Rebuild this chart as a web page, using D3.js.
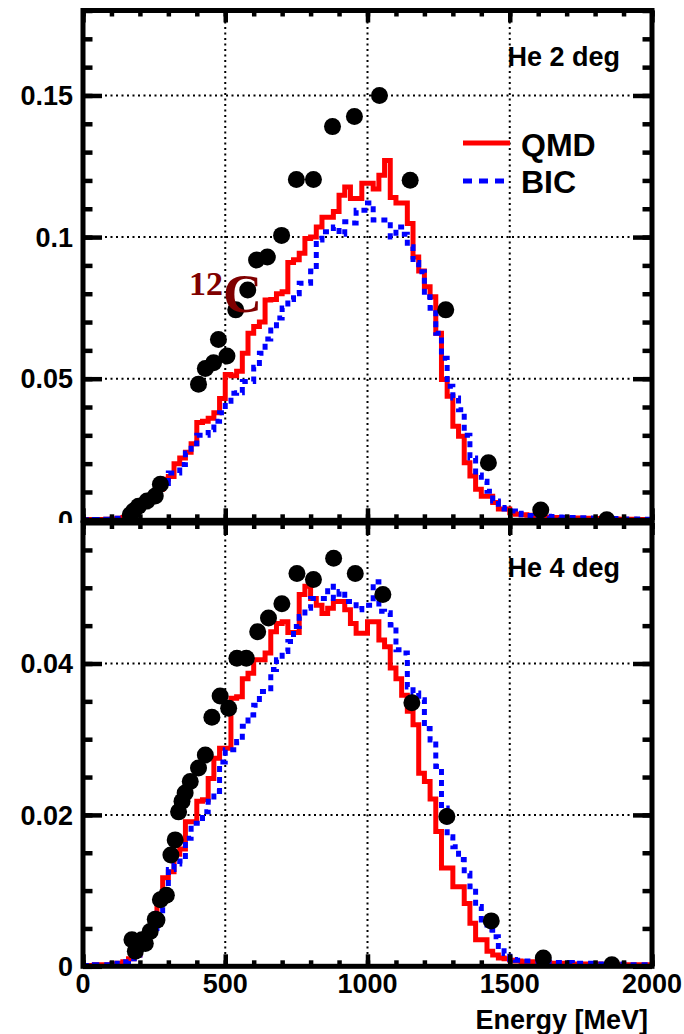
<!DOCTYPE html>
<html>
<head>
<meta charset="utf-8">
<script src="https://cdn.jsdelivr.net/npm/d3@7"></script>
<style>
body { margin: 0; background: #fff; }
svg text { font-family: "Liberation Sans", Arial, sans-serif; font-weight: bold; }
</style>
</head>
<body>
<div id="chart"></div>
<script>
// bins: 20 MeV wide, 0 - 2000 MeV
const binEdges = d3.range(0, 2000, 20)

// He 2 deg
const topQMD = [0.0003,0.0003,0.0003,0.0003,0.0004,0.0005,0.0007,0.001,0.002,0.0035,
  0.005,0.007,0.009,0.011,0.0145,0.0155,0.020,0.022,0.024,0.027,
  0.0345,0.035,0.036,0.038,0.043,0.0515,0.051,0.0526,0.059,0.066,
  0.0684,0.070,0.0778,0.078,0.080,0.0807,0.091,0.092,0.0943,0.0995,
  0.100,0.1036,0.107,0.107,0.109,0.1148,0.1177,0.1136,0.1136,0.119,
  0.119,0.117,0.1218,0.127,0.114,0.112,0.112,0.1048,0.093,0.088,
  0.0825,0.0789,0.066,0.0497,0.0438,0.0332,0.0297,0.0203,0.0156,0.011,
  0.0085,0.0085,0.0063,0.004,0.004,0.0027,0.0021,0.002,0.0018,0.0015,
  0.0012,0.0011,0.001,0.001,0.0009,0.0008,0.0008,0.0007,0.0007,0.0006,
  0.0006,0.0005,0.0005,0.0005,0.0004,0.0004,0.0004,0.0003,0.0003,0.0003]
const topBIC = [0.0002,0.0002,0.0003,0.0003,0.0004,0.0005,0.0007,0.001,0.002,0.003,
  0.004,0.006,0.008,0.010,0.013,0.0167,0.0167,0.0197,0.0238,0.027,
  0.030,0.030,0.032,0.035,0.038,0.042,0.0449,0.045,0.049,0.049,
  0.054,0.059,0.064,0.0672,0.0714,0.075,0.078,0.080,0.0837,0.0837,
  0.088,0.099,0.1019,0.1019,0.1036,0.101,0.1054,0.105,0.1095,0.1095,
  0.112,0.106,0.106,0.106,0.100,0.1036,0.101,0.0966,0.091,0.0878,
  0.0789,0.0749,0.066,0.0572,0.0473,0.0432,0.039,0.030,0.022,0.016,
  0.0138,0.0103,0.0068,0.0045,0.004,0.0033,0.0025,0.002,0.0017,0.0016,
  0.0015,0.0014,0.0013,0.0012,0.0011,0.001,0.001,0.0009,0.0009,0.0008,
  0.0008,0.0007,0.0007,0.0006,0.0006,0.0005,0.0005,0.0005,0.0004,0.0004]
const topDataE = [166,178,195,225,254,272,406,430,459,476,506,537,579,610,648,698,750,810,877,954,1042,1150,1275,1425,1609,1841]
const topDataV = [0.002,0.0033,0.005,0.0068,0.0086,0.0127,0.048,0.0536,0.0556,0.0638,0.058,0.0743,0.0813,0.0919,0.093,0.1006,0.1203,0.1203,0.139,0.1426,0.150,0.1201,0.0743,0.0203,0.0036,0.0002]

// He 4 deg
const botQMD = [0.0001,0.0001,0.0002,0.0002,0.0002,0.0003,0.0004,0.0006,0.001,0.0015,
  0.003,0.004,0.006,0.0085,0.0117,0.0125,0.0148,0.0155,0.0191,0.0191,
  0.0218,0.022,0.0248,0.0275,0.0288,0.0288,0.0354,0.0356,0.038,0.0387,
  0.0405,0.0405,0.0414,0.0442,0.0453,0.0455,0.0441,0.0441,0.0491,0.0502,
  0.0486,0.0477,0.0466,0.0473,0.0482,0.0482,0.0471,0.0453,0.044,0.044,
  0.0455,0.0455,0.0431,0.0422,0.0394,0.038,0.0358,0.0337,0.0319,0.0255,
  0.0244,0.0221,0.0178,0.013,0.013,0.0105,0.0105,0.0083,0.0057,0.0035,
  0.0035,0.002,0.0015,0.0011,0.001,0.0008,0.0007,0.0006,0.0006,0.0005,
  0.0005,0.0005,0.0004,0.0004,0.0004,0.0004,0.0003,0.0003,0.0003,0.0003,
  0.0003,0.0002,0.0002,0.0002,0.0002,0.0002,0.0002,0.0002,0.0002,0.0002]
const botBIC = [0.0001,0.0001,0.0002,0.0002,0.0002,0.0003,0.0004,0.0006,0.001,0.0015,
  0.0025,0.0035,0.005,0.007,0.0095,0.0128,0.0135,0.0139,0.0169,0.0189,
  0.0189,0.0204,0.0218,0.0231,0.027,0.0286,0.0286,0.0297,0.0317,0.0332,
  0.0345,0.0363,0.0363,0.0392,0.0405,0.0416,0.0429,0.0449,0.0462,0.0473,
  0.0486,0.0486,0.0486,0.0502,0.0486,0.0495,0.0482,0.0482,0.0471,0.0477,
  0.0477,0.0508,0.0469,0.0467,0.0451,0.0418,0.0414,0.0369,0.0361,0.0352,
  0.0314,0.0299,0.0264,0.0209,0.0171,0.0158,0.0141,0.0123,0.0105,0.0079,
  0.0061,0.0048,0.0039,0.0026,0.0017,0.0009,0.0008,0.0007,0.0007,0.0007,
  0.0006,0.0006,0.0006,0.0005,0.0005,0.0005,0.0004,0.0004,0.0004,0.0004,
  0.0003,0.0003,0.0003,0.0003,0.0003,0.0003,0.0002,0.0002,0.0002,0.0002]
const botDataE = [172,184,207,219,236,254,260,272,293,309,324,336,348,359,377,406,430,453,482,512,541,574,614,652,699,752,810,881,957,1054,1156,1279,1435,1618,1859]
const botDataV = [0.0035,0.002,0.0035,0.003,0.0046,0.0062,0.0061,0.0088,0.0094,0.0147,0.0167,0.0204,0.0218,0.0229,0.0244,0.0262,0.0279,0.0329,0.0357,0.0341,0.0407,0.0407,0.0442,0.046,0.0479,0.0519,0.0511,0.0539,0.0519,0.0491,0.0348,0.0198,0.006,0.0011,0.0002]

const xTicks = [0, 500, 1000, 1500, 2000]
const xMinor = d3.range(0, 2001, 100)
const topYTicks = [0, 0.05, 0.1, 0.15]
const topYMinor = d3.range(0, 0.181, 0.01)
const botYTicks = [0, 0.02, 0.04]
const botYMinor = d3.range(0, 0.059, 0.005)

const width = 684
const height = 1034
const left = 83
const right = 652

const svg = d3.select("#chart").append("svg")
  .attr("width", width).attr("height", height)

const x = d3.scaleLinear().domain([0, 2000]).range([left, right])

function drawPad(g, cfg) {
  const y = d3.scaleLinear().domain([0, cfg.ymax]).range([cfg.bottom, cfg.top])
  const id = cfg.id

  g.append("rect").attr("x", 0).attr("y", cfg.padTop).attr("width", width).attr("height", cfg.padH).attr("fill", "#fff")

  g.append("clipPath").attr("id", "clip" + id).append("rect")
    .attr("x", left).attr("y", cfg.top).attr("width", right - left).attr("height", cfg.bottom - cfg.top)

  // grid
  const grid = g.append("g").attr("stroke", "#000").attr("stroke-width", 2).attr("stroke-dasharray", "2,3.5")
  grid.selectAll(".gx").data(xTicks.slice(1, -1)).join("line")
    .attr("x1", d => x(d)).attr("x2", d => x(d)).attr("y1", cfg.top).attr("y2", cfg.bottom)
  grid.selectAll(".gy").data(cfg.yTicks.slice(1)).join("line")
    .attr("x1", left).attr("x2", right).attr("y1", d => y(d)).attr("y2", d => y(d))

  // histograms
  const hist = d3.line().x(d => x(d[0])).y(d => y(d[1])).curve(d3.curveStepAfter)
  const plot = g.append("g").attr("clip-path", `url(#clip${id})`)
  const pts = vals => binEdges.map((e, i) => [e, vals[i]]).concat([[2000, vals[vals.length - 1]]])
  plot.append("path").datum(pts(cfg.qmd))
    .attr("fill", "none").attr("stroke", "#ff0000").attr("stroke-width", 5).attr("d", hist)
  plot.append("path").datum(pts(cfg.bic))
    .attr("fill", "none").attr("stroke", "#0000ff").attr("stroke-width", 5)
    .attr("stroke-dasharray", "6,5").attr("d", hist)

  // data points
  plot.selectAll("circle").data(cfg.dataE.map((e, i) => [e, cfg.dataV[i]])).join("circle")
    .attr("cx", d => x(d[0])).attr("cy", d => y(d[1])).attr("r", 8.5).attr("fill", "#000")

  // axes
  const axes = [
    [d3.axisBottom(x).tickValues(xTicks).tickSize(-12), `translate(0,${cfg.bottom})`],
    [d3.axisBottom(x).tickValues(xMinor).tickSize(-6), `translate(0,${cfg.bottom})`],
    [d3.axisTop(x).tickValues(xTicks).tickSize(-12), `translate(0,${cfg.top})`],
    [d3.axisTop(x).tickValues(xMinor).tickSize(-6), `translate(0,${cfg.top})`],
    [d3.axisLeft(y).tickValues(cfg.yTicks).tickSize(-19), `translate(${left},0)`],
    [d3.axisLeft(y).tickValues(cfg.yMinor).tickSize(-9.5), `translate(${left},0)`],
    [d3.axisRight(y).tickValues(cfg.yTicks).tickSize(-19), `translate(${right},0)`],
    [d3.axisRight(y).tickValues(cfg.yMinor).tickSize(-9.5), `translate(${right},0)`]
  ]
  axes.forEach(([ax, tr]) => {
    const a = g.append("g").attr("transform", tr).call(ax.tickFormat(""))
    a.select(".domain").remove()
    a.selectAll("line").attr("stroke", "#000").attr("stroke-width", 4.5)
  })

  // frame
  g.append("rect").attr("x", left).attr("y", cfg.top).attr("width", right - left).attr("height", cfg.bottom - cfg.top)
    .attr("fill", "none").attr("stroke", "#000").attr("stroke-width", 5)

  // y labels
  g.selectAll(".ylab").data(cfg.yTicks).join("text")
    .attr("x", 73).attr("y", d => y(d)).attr("dy", "0.36em")
    .attr("text-anchor", "end").attr("font-size", 27)
    .text(d => d3.format("~g")(d))

  g.append("text").attr("x", 620).attr("y", cfg.titleY).attr("text-anchor", "end")
    .attr("font-size", 27).text(cfg.title)

  return y
}

const topG = svg.append("g")
drawPad(topG, {id: 1, padTop: 0, padH: 522, top: 10.5, bottom: 520.3, ymax: 0.18,
  yTicks: topYTicks, yMinor: topYMinor, qmd: topQMD, bic: topBIC,
  dataE: topDataE, dataV: topDataV, title: "He 2 deg", titleY: 66})

const botG = svg.append("g")
drawPad(botG, {id: 2, padTop: 523, padH: 511, top: 523, bottom: 966.3, ymax: 0.05856,
  yTicks: botYTicks, yMinor: botYMinor, qmd: botQMD, bic: botBIC,
  dataE: botDataE, dataV: botDataV, title: "He 4 deg", titleY: 577})

// x labels, bottom pad
botG.selectAll(".xlab").data(xTicks).join("text")
  .attr("x", d => x(d)).attr("y", 993).attr("text-anchor", "middle")
  .attr("font-size", 27).text(d => d)
botG.append("text").attr("x", 648).attr("y", 1029).attr("text-anchor", "end")
  .attr("font-size", 27).text("Energy [MeV]")

// legend
const leg = topG.append("g")
leg.append("line").attr("x1", 463).attr("x2", 510).attr("y1", 143).attr("y2", 143)
  .attr("stroke", "#ff0000").attr("stroke-width", 5)
leg.append("line").attr("x1", 463).attr("x2", 510).attr("y1", 181).attr("y2", 181)
  .attr("stroke", "#0000ff").attr("stroke-width", 5).attr("stroke-dasharray", "9,7")
leg.append("text").attr("x", 521).attr("y", 156).attr("font-size", 32).text("QMD")
leg.append("text").attr("x", 521).attr("y", 193).attr("font-size", 32).text("BIC")

// 12C label
const lab = topG.append("text").attr("x", 189).attr("y", 312)
  .attr("fill", "#800000").style("font-family", "'Liberation Serif', 'Times New Roman', serif")
lab.append("tspan").attr("font-size", 34).attr("dy", -17).text("12")
lab.append("tspan").attr("font-size", 54).attr("dy", 17).text("C")
</script>
</body>
</html>
